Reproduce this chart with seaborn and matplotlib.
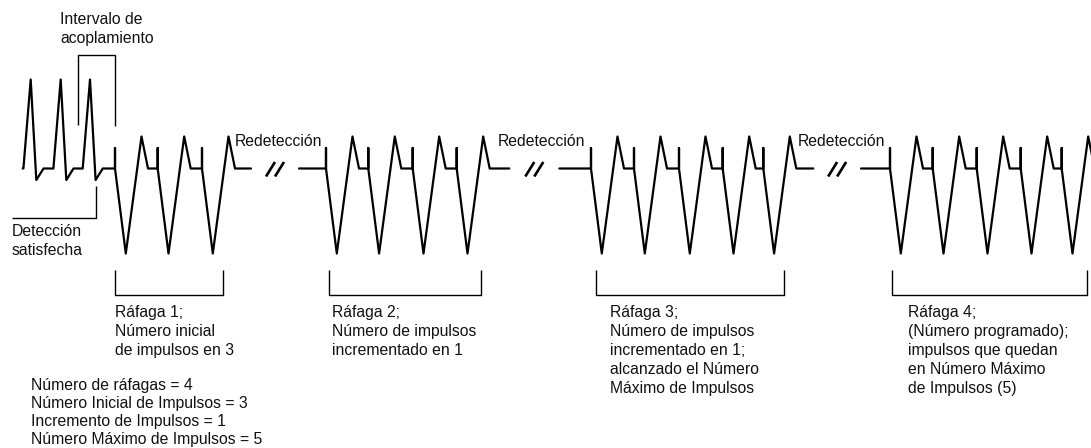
import numpy as np
import pandas as pd
import matplotlib
matplotlib.use("Agg")
import matplotlib.pyplot as plt
import seaborn as sns

sns.set_theme(style="white")
plt.rcParams['font.family'] = ['Liberation Sans', 'DejaVu Sans']

# ---------------- data ----------------
# intrinsic (sensed) beats: peak times
intrinsic_peaks = [30.7, 60.7, 90.0]
intrinsic_start = 22.7
# pacing pulse onset times for each burst
burst_names = ["Ráfaga 1", "Ráfaga 2", "Ráfaga 3", "Ráfaga 4"]
burst1 = [115.0, 157.7, 202.0]
burst2 = [326.0, 368.3, 412.7, 456.7]
burst3 = [591.0, 634.0, 679.0, 722.7, 763.3]
burst4 = [890.0, 932.7, 976.7, 1020.7, 1061.7]
bursts = [burst1, burst2, burst3, burst4]
# baseline interrupted (redetection) between bursts: (end of trace, restart of trace)
gap_end = [251.0, 509.3, 813.3]
gap_restart = [299.0, 559.3, 861.0]
# amplitude levels (arbitrary units)
amp_intr_peak = 8.9
amp_intr_dip = -1.15
amp_spike = 2.05
amp_trough = -8.5
amp_pace_peak = 3.2

burst_texts = [
    ["Ráfaga 1;", "Número inicial", "de impulsos en 3"],
    ["Ráfaga 2;", "Número de impulsos", "incrementado en 1"],
    ["Ráfaga 3;", "Número de impulsos", "incrementado en 1;",
     "alcanzado el Número", "Máximo de Impulsos"],
    ["Ráfaga 4;", "(Número programado);", "impulsos que quedan",
     "en Número Máximo", "de Impulsos (5)"],
]
param_lines = ["Número de ráfagas = 4", "Número Inicial de Impulsos = 3",
               "Incremento de Impulsos = 1", "Número Máximo de Impulsos = 5"]

# ---------------- build trace ----------------
rows = []
seg = 0
def add(t, a):
    rows.append((seg, t, a))

add(intrinsic_start, 0.0)
for p in intrinsic_peaks:
    add(p - 7.3, 0.0)
    add(p, amp_intr_peak)
    add(p + 5.6, amp_intr_dip)
    add(p + 12.8, 0.0)

def add_pulse(t):
    add(t, 0.0)
    add(t, amp_spike)
    add(t, 0.0)
    add(t + 10.8, amp_trough)
    add(t + 26.5, amp_pace_peak)
    add(t + 33.0, 0.0)

for bi, b in enumerate(bursts):
    if bi > 0:
        seg += 1
        add(gap_restart[bi - 1], 0.0)
    for t in b:
        add_pulse(t)
    if bi < len(gap_end):
        add(gap_end[bi], 0.0)

df = pd.DataFrame(rows, columns=["seg", "t", "amp"])

# ---------------- figure ----------------
W, H = 1091, 448
fig = plt.figure(figsize=(W / 100, H / 100), dpi=100)
fig.patch.set_facecolor("white")

# axis for the trace: baseline at pixel 168.5, 10 px per unit
ax = fig.add_axes([0, 0, 1, 1])
ax.set_xlim(0, W)
ax.set_ylim((168.5 - H) / 10.0, 168.5 / 10.0)
sns.lineplot(data=df, x="t", y="amp", units="seg", estimator=None, sort=False,
             color="black", linewidth=1.6, ax=ax, legend=False)
ax.set_axis_off()

# overlay axis in pixel coordinates for annotations
ov = fig.add_axes([0, 0, 1, 1])
ov.set_xlim(0, W)
ov.set_ylim(H, 0)
ov.set_axis_off()
ov.patch.set_alpha(0)

lk = dict(color="black", linewidth=1.0, solid_capstyle="butt")
fs = 11.3

def lines_text(x, y0, lines, step=18.8):
    for i, s in enumerate(lines):
        ov.text(x, y0 + i * step, s, fontsize=fs, va="baseline", ha="left",
                color="#111111")

# coupling interval bracket
ov.plot([77.7, 77.7, 114.5, 114.5], [125, 55, 55, 126], **lk)
lines_text(60, 24.0, ["Intervalo de", "acoplamiento"], 18.5)

# detection satisfied
ov.plot([96, 96, 11.7], [186, 217.7, 217.7], **lk)
lines_text(12, 236.0, ["Detección", "satisfecha"], 19.0)

# redetection labels and break marks
redet_x = [235, 498, 798]
for x in redet_x:
    lines_text(x, 145.5, ["Redetección"])
for g0, g1 in zip(gap_end, gap_restart):
    c = (g0 + g1) / 2.0
    for dx in (-4.5, 4.5):
        ov.plot([c + dx - 4.5, c + dx + 4.5], [176.5, 162], color="black",
                linewidth=1.9, solid_capstyle="butt")

# burst brackets and labels
br_left = [115, 329, 595.7, 892.3]
br_right = [222.7, 480.7, 784, 1087]
txt_x = [115, 332.5, 610, 908]
for l, r, tx, s in zip(br_left, br_right, txt_x, burst_texts):
    ov.plot([l, l, r, r], [270, 295, 295, 270], **lk)
    lines_text(tx, 317.5, s, 18.9)

lines_text(30.7, 390.0, param_lines, 18.1)

fig.savefig("out.png", dpi=100)
